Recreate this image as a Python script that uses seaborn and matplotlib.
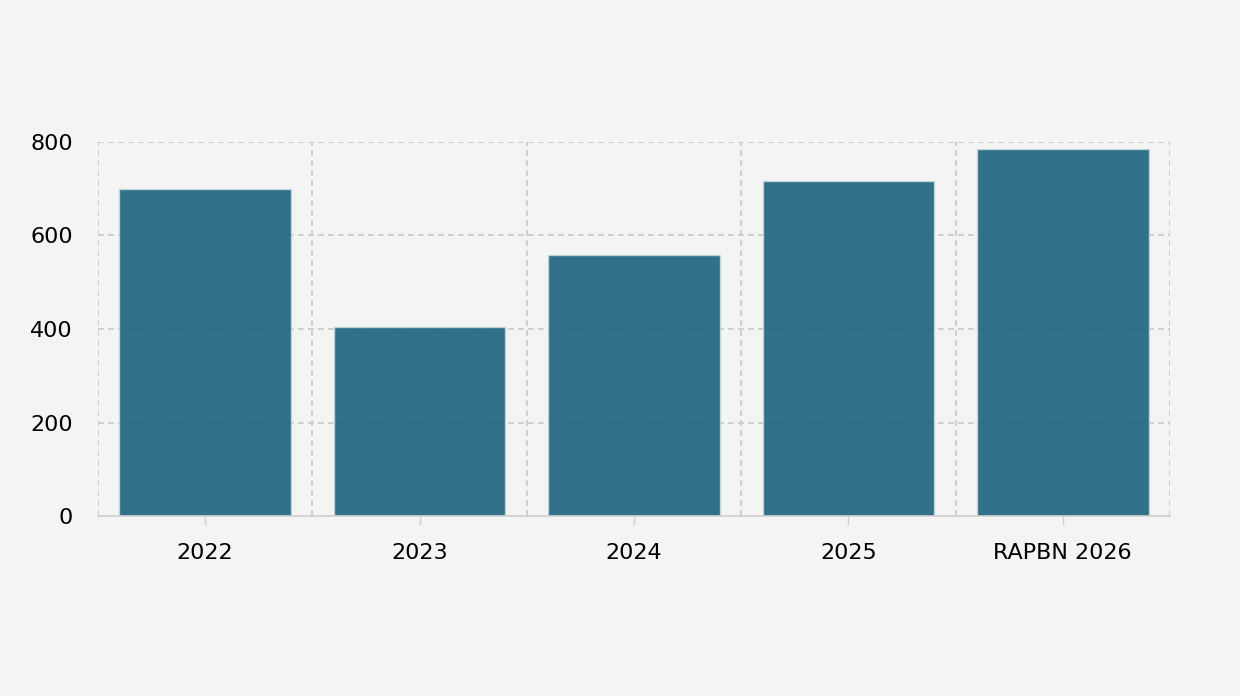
import matplotlib
matplotlib.use("Agg")
import matplotlib.pyplot as plt
import seaborn as sns
import pandas as pd
from matplotlib.ticker import FixedLocator

categories = ["2022", "2023", "2024", "2025", "RAPBN 2026"]
values = [699, 404, 558, 716, 784]

df = pd.DataFrame({"cat": categories, "val": values})

sns.set_theme(style="white")
plt.rcParams['font.family'] = ['DejaVu Sans']

bg = "#f4f4f4"
fig = plt.figure(figsize=(12.4, 6.96), dpi=100, facecolor=bg)
ax = fig.add_axes([0.079, 0.2586, 0.8645, 0.5374])
ax.set_facecolor(bg)

sns.barplot(data=df, x="cat", y="val", color="#115c78", saturation=1, alpha=0.86,
            width=0.8, edgecolor="#c9d9e0", linewidth=1, ax=ax, zorder=3)

ax.set_xlim(-0.5, len(categories) - 0.5)
ax.set_ylim(0, 800)
ax.set_yticks([0, 200, 400, 600, 800])
ax.xaxis.set_minor_locator(FixedLocator([i - 0.5 for i in range(len(categories) + 1)]))

ax.set_axisbelow(True)
ax.grid(axis="y", which="major", color="#c8c8c8", linestyle=(0, (3.5, 2.5)), linewidth=1.2, zorder=0)
ax.grid(axis="x", which="minor", color="#c8c8c8", linestyle=(0, (3.5, 2.5)), linewidth=1.2, zorder=0)
ax.grid(axis="x", which="major", visible=False)

for s in ["top", "right", "left"]:
    ax.spines[s].set_visible(False)
ax.spines["bottom"].set_color("#d0d0d0")
ax.spines["bottom"].set_linewidth(1.2)
ax.spines["bottom"].set_zorder(4)

ax.tick_params(axis="x", which="major", length=6.5, width=1, color="#d0d0d0",
               labelsize=16, pad=13, labelcolor="black", bottom=True)
ax.tick_params(axis="x", which="minor", length=0)
ax.tick_params(axis="y", length=0, labelsize=16, pad=18, labelcolor="black")
ax.set_xlabel("")
ax.set_ylabel("")

fig.savefig("out.png", dpi=100, facecolor=bg)
